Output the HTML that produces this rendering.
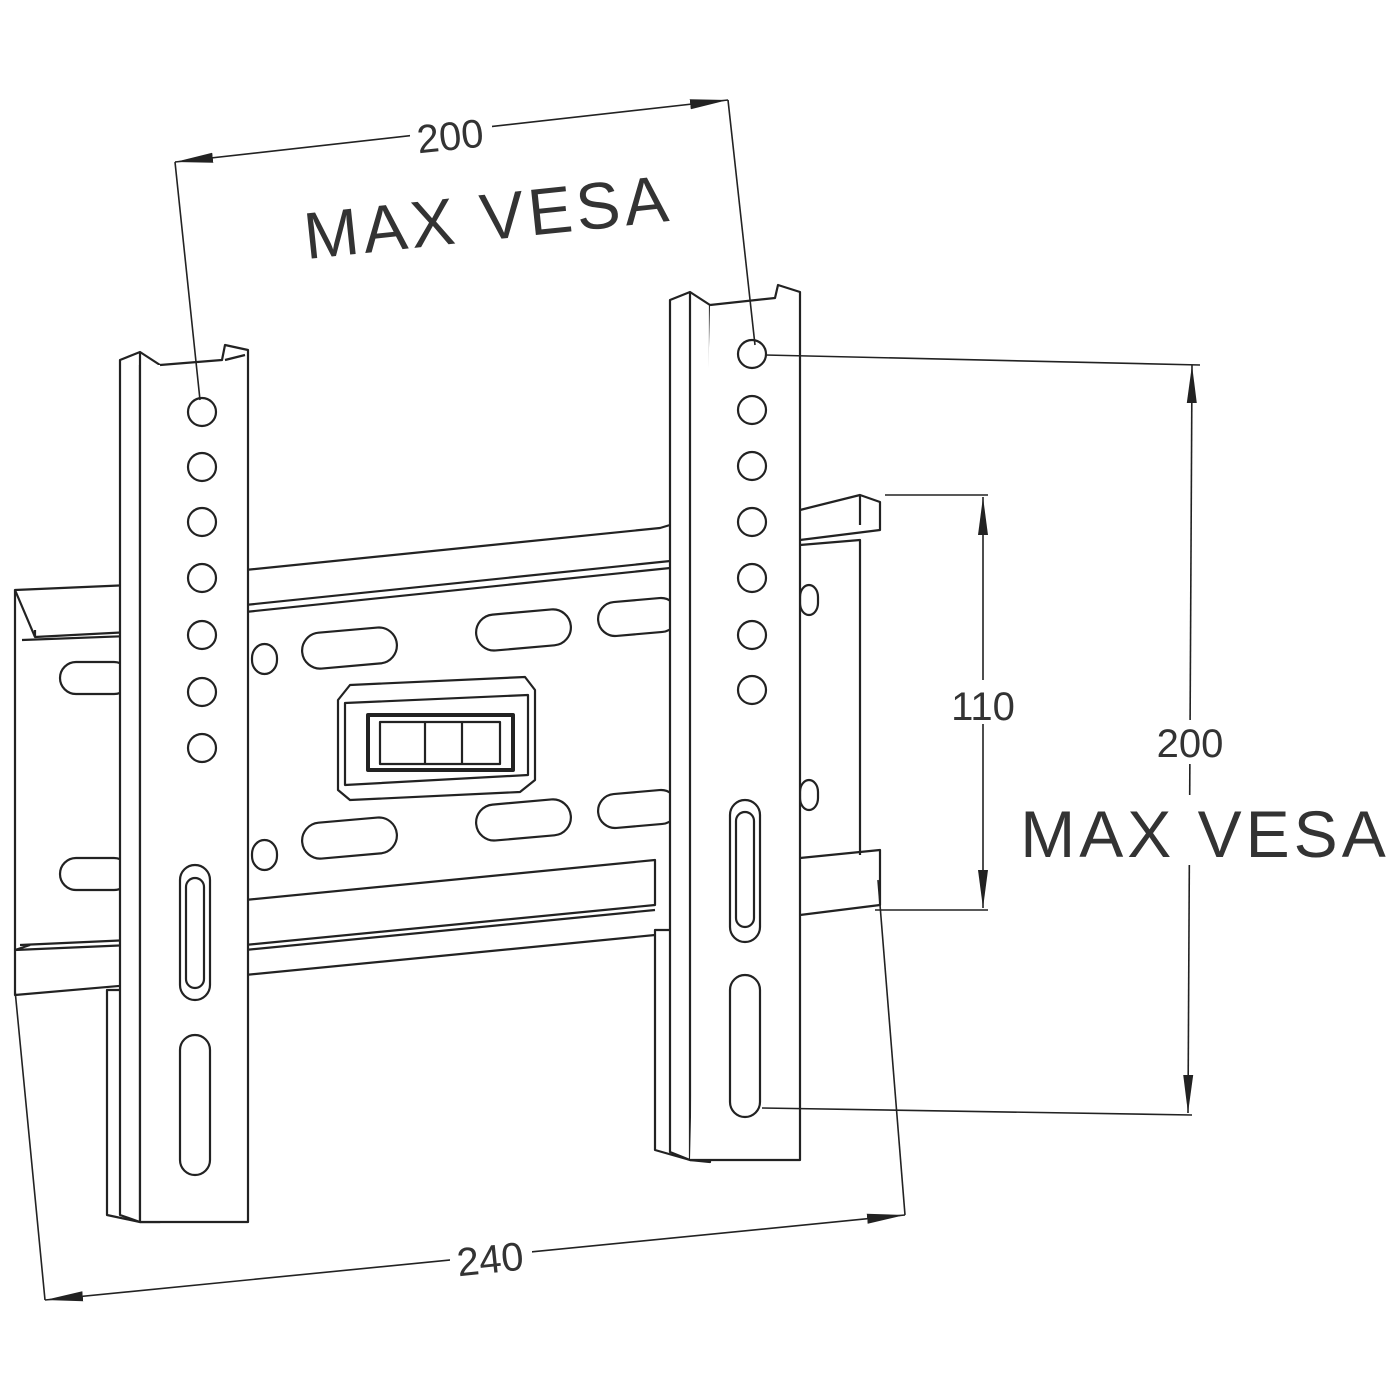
<!DOCTYPE html>
<html><head><meta charset="utf-8"><style>html,body{margin:0;padding:0;background:#fff}svg{display:block}</style></head>
<body>
<svg width="1400" height="1400" viewBox="0 0 1400 1400" xmlns="http://www.w3.org/2000/svg" fill="none" stroke="#222" stroke-width="2.2" stroke-linejoin="round">
<defs>
<marker id="a" markerWidth="40" markerHeight="12" refX="38" refY="6" orient="auto-start-reverse" markerUnits="userSpaceOnUse"><path d="M0,1 L38,6 L0,11 Z" fill="#222" stroke="none"/></marker>
</defs>

<!-- horizontal plate -->
<g>
<path d="M15,590 L130,585 L130,632 L35,637 Z"/>
<path d="M15,590 L15,950 L30,945"/>
<path d="M35,637 L35,630"/>
<path d="M22,640 L130,636"/>
<path d="M20,945 L130,940"/>
<path d="M15,950 L130,945 L130,985 L15,995 Z"/>
<path d="M245,570 L660,528 L680,522 L680,560 L245,605"/>
<path d="M245,612 L680,567"/>
<path d="M800,510 L860,495 L880,502 L880,530 L800,540"/>
<path d="M860,495 L860,525"/>
<path d="M800,545 L860,540 L860,855"/>
<path d="M800,858 L880,850 L880,905 L800,915"/>
<path d="M245,900 L655,860 L655,905 L245,945"/>
<path d="M245,950 L655,910"/>
<path d="M245,975 L655,935"/>
<path d="M130,985 L130,1000 L107,995"/>
<!-- slots -->
<rect x="60" y="662" width="70" height="32" rx="16"/>
<rect x="60" y="858" width="70" height="32" rx="16"/>
<rect x="252" y="644" width="25" height="30" rx="14"/>
<rect x="252" y="840" width="25" height="30" rx="14"/>
<rect x="302" y="630" width="95" height="36" rx="18" transform="rotate(-5 350 648)"/>
<rect x="476" y="612" width="95" height="36" rx="18" transform="rotate(-5 523 630)"/>
<rect x="598" y="600" width="80" height="34" rx="17" transform="rotate(-5 638 617)"/>
<rect x="302" y="820" width="95" height="36" rx="18" transform="rotate(-5 350 838)"/>
<rect x="476" y="802" width="95" height="36" rx="18" transform="rotate(-5 523 820)"/>
<rect x="598" y="792" width="80" height="34" rx="17" transform="rotate(-5 638 809)"/>
<rect x="800" y="585" width="18" height="30" rx="12"/>
<rect x="800" y="780" width="18" height="30" rx="12"/>
<!-- level -->
<path d="M338,700 L350,685 L525,677 L535,690 L535,780 L520,792 L350,800 L338,790 Z"/>
<path d="M345,703 L528,695 L528,775 L345,785 Z"/>
<rect x="368" y="715" width="145" height="55" stroke-width="4"/>
<rect x="380" y="722" width="120" height="42"/>
<line x1="425" y1="722" x2="425" y2="764"/>
<line x1="462" y1="722" x2="462" y2="764"/>
</g>

<!-- left bar -->
<g fill="#fff">
<path d="M107,990 L107,1215 L140,1222 L140,990 Z"/>
<path d="M120,360 L140,352 L160,365 L160,1222 L140,1222 L120,1215 Z"/>
<path d="M140,352 L140,1222"/>
<path d="M160,365 L222,360 L225,345 L248,350 L248,1222 L140,1222 L140,365" />
<path d="M225,360 L245,355"/>
</g>
<g>
<circle cx="202" cy="412" r="14"/><circle cx="202" cy="467" r="14"/><circle cx="202" cy="522" r="14"/><circle cx="202" cy="578" r="14"/><circle cx="202" cy="635" r="14"/><circle cx="202" cy="692" r="14"/><circle cx="202" cy="748" r="14"/>
<rect x="180" y="865" width="30" height="135" rx="15"/>
<rect x="180" y="1035" width="30" height="140" rx="15"/>
<rect x="186" y="878" width="18" height="110" rx="9"/>
</g>

<!-- right bar -->
<g fill="#fff">
<path d="M655,930 L655,1150 L690,1160 L690,930 Z"/>
<path d="M670,300 L690,292 L710,305 L710,1162 L690,1160 L670,1152 Z"/>
<path d="M690,292 L690,1160"/>
<path d="M710,305 L775,298 L778,285 L800,292 L800,1160 L690,1160"/>
</g>
<g>
<circle cx="752" cy="354" r="14"/><circle cx="752" cy="410" r="14"/><circle cx="752" cy="466" r="14"/><circle cx="752" cy="522" r="14"/><circle cx="752" cy="578" r="14"/><circle cx="752" cy="635" r="14"/><circle cx="752" cy="690" r="14"/>
<rect x="730" y="800" width="30" height="142" rx="15"/>
<rect x="736" y="812" width="18" height="115" rx="9"/>
<rect x="730" y="975" width="30" height="142" rx="15"/>
</g>

<!-- dimensions -->
<g stroke-width="1.6">
<line x1="175" y1="162" x2="728" y2="100" marker-start="url(#a)" marker-end="url(#a)"/>
<line x1="175" y1="162" x2="200" y2="400"/>
<line x1="728" y1="100" x2="755" y2="345"/>
<line x1="765" y1="355" x2="1200" y2="365"/>
<line x1="762" y1="1108" x2="1192" y2="1115"/>
<line x1="1192" y1="365" x2="1188" y2="1113" marker-start="url(#a)" marker-end="url(#a)"/>
<line x1="885" y1="495" x2="988" y2="495"/>
<line x1="875" y1="910" x2="988" y2="910"/>
<line x1="983" y1="497" x2="983" y2="908" marker-start="url(#a)" marker-end="url(#a)"/>
<line x1="45" y1="1300" x2="905" y2="1215" marker-start="url(#a)" marker-end="url(#a)"/>
<line x1="15" y1="990" x2="45" y2="1300"/>
<line x1="878" y1="880" x2="905" y2="1215"/>
</g>

<g font-family="Liberation Sans, sans-serif" fill="#333" stroke="none" font-weight="300">
<rect x="410" y="112" width="82" height="42" fill="#fff"/>
<text x="450" y="150" font-size="40" text-anchor="middle" transform="rotate(-6 450 135)">200</text>
<text x="487" y="240" font-size="66" text-anchor="middle" letter-spacing="4" transform="rotate(-6 487 210)">MAX VESA</text>
<rect x="945" y="680" width="75" height="44" fill="#fff"/>
<text x="983" y="720" font-size="40" text-anchor="middle">110</text>
<rect x="1150" y="720" width="82" height="44" fill="#fff"/>
<text x="1190" y="757" font-size="40" text-anchor="middle">200</text>
<rect x="1150" y="795" width="80" height="70" fill="#fff"/>
<text x="1205" y="857" font-size="66" text-anchor="middle" letter-spacing="4">MAX VESA</text>
<rect x="450" y="1236" width="82" height="44" fill="#fff"/>
<text x="490" y="1273" font-size="40" text-anchor="middle" transform="rotate(-6 490 1258)">240</text>
</g>
</svg>
</body></html>
